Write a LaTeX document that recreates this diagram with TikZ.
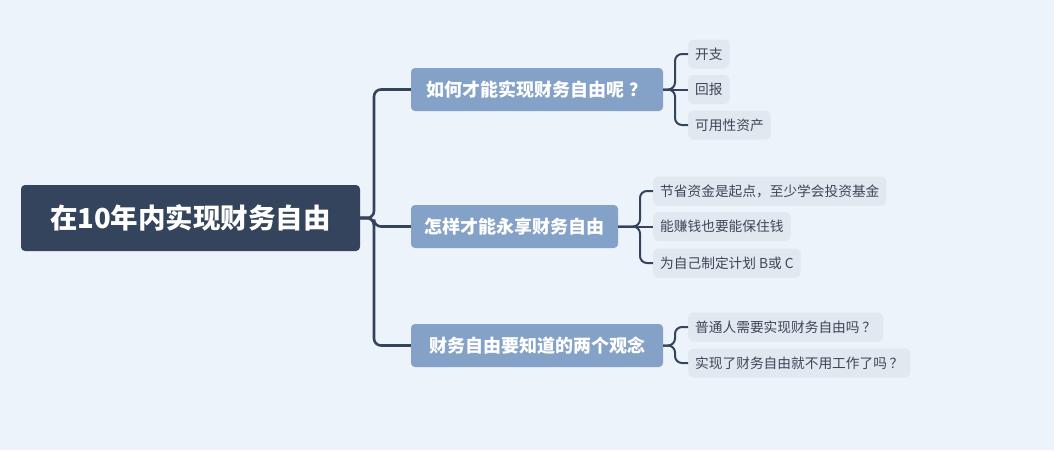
\documentclass[tikz,border=0pt]{standalone}
\usepackage{fontspec}
\setmainfont{Noto Sans CJK SC}
\definecolor{bg}{HTML}{EDF3FA}
\definecolor{rootc}{HTML}{34445C}
\definecolor{branchc}{HTML}{84A1C8}
\definecolor{leafc}{HTML}{E2E8F0}
\definecolor{leaftxt}{HTML}{3C4656}
\definecolor{linec}{HTML}{34445C}
\tikzset{
  rootbox/.style={fill=rootc, text=white, rounded corners=4pt, font=\fontsize{27.5}{32}\selectfont\bfseries, minimum width=339pt, minimum height=66pt, inner sep=0pt},
  branchbox/.style={fill=branchc, text=white, rounded corners=4pt, font=\fontsize{18}{21}\selectfont\bfseries, minimum height=43pt, inner sep=0pt},
  leafbox/.style={fill=leafc, text=leaftxt, rounded corners=5pt, font=\fontsize{13.7}{16}\selectfont, minimum height=29pt, inner xsep=7pt, inner ysep=0pt, anchor=west},
  trunk/.style={draw=linec, line width=2.6pt, rounded corners=7pt},
  twig/.style={draw=linec, line width=2pt, rounded corners=7pt},
}
\begin{document}
\begin{tikzpicture}[x=1pt,y=-1pt]
\fill[bg] (0,0) rectangle (1054,450);
\useasboundingbox (0,0) rectangle (1054,450);

\node[rootbox] (root) at (190.5,218) {在10年内实现财务自由};

\node[branchbox, minimum width=252pt] (b1) at (537,89.5) {如何才能实现财务自由呢\kern0.3em？};
\node[branchbox, minimum width=207pt] (b2) at (514.5,226.5) {怎样才能永享财务自由};
\node[branchbox, minimum width=252pt] (b3) at (537,345.5) {财务自由要知道的两个观念};

\coordinate (t) at (374,218);
\draw[trunk] (root.east) -- (t) |- (b1.west);
\draw[trunk] (root.east) -- (t) |- (b2.west);
\draw[trunk] (root.east) -- (t) |- (b3.west);

% leaves of b1
\node[leafbox] (l11) at (688,54) {开支};
\node[leafbox] (l12) at (688,89.5) {回报};
\node[leafbox] (l13) at (688,125) {可用性资产};
\coordinate (k1) at (675,89.5);
\draw[twig] (b1.east) -- (k1) |- (l11.west);
\draw[twig] (b1.east) -- (l12.west);
\draw[twig] (b1.east) -- (k1) |- (l13.west);

% leaves of b2
\node[leafbox] (l21) at (653,191) {节省资金是起点，至少学会投资基金};
\node[leafbox] (l22) at (653,226.5) {能赚钱也要能保住钱};
\node[leafbox] (l23) at (653,263) {为自己制定计划 B或 C};
\coordinate (k2) at (640,226.5);
\draw[twig] (b2.east) -- (k2) |- (l21.west);
\draw[twig] (b2.east) -- (l22.west);
\draw[twig] (b2.east) -- (k2) |- (l23.west);

% leaves of b3
\node[leafbox] (l31) at (688,327) {普通人需要实现财务自由吗\kern0.2em？};
\node[leafbox] (l32) at (688,363) {实现了财务自由就不用工作了吗\kern0.2em？};
\coordinate (k3) at (675,345.5);
\draw[twig] (b3.east) -- (k3) |- (l31.west);
\draw[twig] (b3.east) -- (k3) |- (l32.west);
\end{tikzpicture}
\end{document}
